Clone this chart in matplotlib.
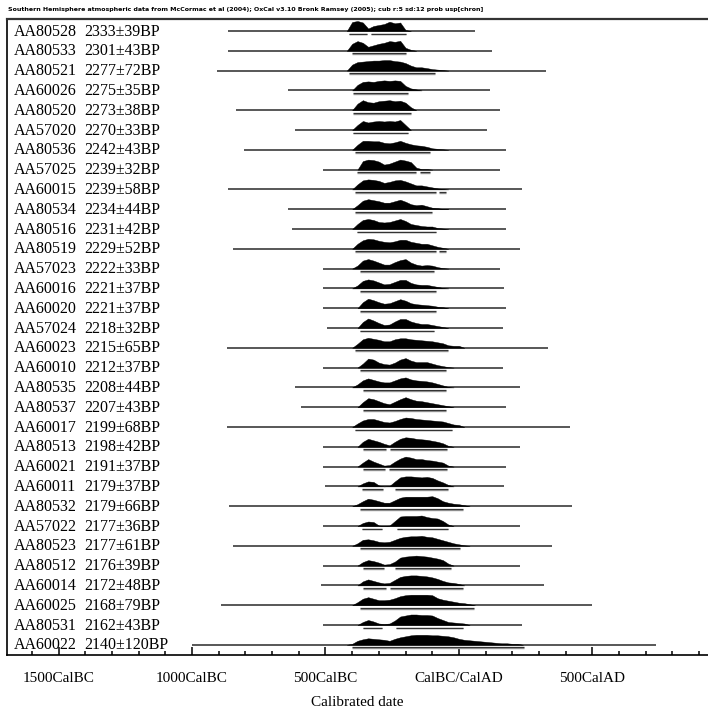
# OxCal style multiplot of calibrated radiocarbon dates
import matplotlib
matplotlib.use("Agg")
import matplotlib.pyplot as plt

names = ["AA80528", "AA80533", "AA80521", "AA60026", "AA80520", "AA57020",
         "AA80536", "AA57025", "AA60015", "AA80534", "AA80516", "AA80519",
         "AA57023", "AA60016", "AA60020", "AA57024", "AA60023", "AA60010",
         "AA80535", "AA80537", "AA60017", "AA80513", "AA60021", "AA60011",
         "AA80532", "AA57022", "AA80523", "AA80512", "AA60014", "AA60025",
         "AA80531", "AA60022"]
bp = [2333, 2301, 2277, 2275, 2273, 2270, 2242, 2239, 2239, 2234, 2231, 2229,
      2222, 2221, 2221, 2218, 2215, 2212, 2208, 2207, 2199, 2198, 2191, 2179,
      2179, 2177, 2177, 2176, 2172, 2168, 2162, 2140]
err = [39, 43, 72, 35, 38, 33, 43, 32, 58, 44, 42, 52,
       33, 37, 37, 32, 65, 37, 44, 43, 68, 42, 37, 37,
       66, 36, 61, 39, 48, 79, 43, 120]

# extent of the thin line of each row (years, BC negative)
line_start = [-865, -865, -905, -640, -835, -615, -805, -510, -865, -640, -625, -845,
              -510, -510, -510, -495, -870, -510, -615, -590, -870, -510, -510, -500,
              -860, -510, -845, -510, -515, -890, -510, -1000]
line_end = [60, 125, 325, 115, 155, 105, 175, 155, 235, 175, 175, 230,
            155, 170, 175, 165, 335, 165, 230, 175, 415, 230, 175, 170,
            425, 230, 350, 230, 320, 500, 235, 740]

# probability profile, read every 20 years from dist_start (relative height)
step = 20
dist_start = [-420, -420, -420, -400, -400, -400, -400, -380, -400, -400, -400, -400,
              -400, -400, -380, -380, -400, -380, -400, -380, -400, -380, -380, -380,
              -400, -380, -400, -380, -380, -400, -380, -420]
dist_heights = [
    [0, 9, 10, 8.5, 2.5, 5, 6, 7, 9.3, 7.7, 8.5, 1, 0],
    [0, 7, 9.7, 8, 4, 5.5, 7, 8, 9.7, 9, 10, 3, 1, 0],
    [0, 6, 8.5, 9, 9.5, 10, 10, 10.5, 10.5, 9.5, 9, 7.5, 5, 3.3, 3.3, 2.5, 1.5, 1, 0.5, 0],
    [0, 5.5, 8.5, 9, 8.5, 9.5, 10, 9.5, 10, 9.5, 4.5, 2, 1, 0],
    [0, 6.5, 10, 8, 7.5, 9, 9.5, 10, 9, 9.5, 7.5, 3, 0],
    [0, 5, 9, 7.5, 8.5, 9, 8.5, 9, 8.5, 10, 5, 0],
    [0, 5, 9, 9, 8.5, 8.5, 7, 6.5, 7.5, 9, 7, 5.5, 4.5, 4, 3, 1.5, 1, 0.5, 0],
    [0, 8.5, 10, 9.5, 8, 5, 6, 8, 10, 9, 7.5, 2, 0.5, 0.5, 0],
    [0, 5, 9, 10, 9.5, 8.5, 6.5, 7.5, 9, 9.5, 8, 6, 4, 4, 3, 2, 1, 0.5, 0],
    [0, 4, 8.5, 10, 9, 8, 6.5, 6.5, 8, 9.5, 7.5, 5, 4, 4.5, 3, 1.5, 1, 0.3, 0],
    [0, 5, 9, 10, 9, 7, 6.5, 7, 8.5, 10, 8, 5, 4, 3, 2.5, 2.5, 1, 0.5, 0],
    [0, 5, 8.5, 10, 9.5, 8, 7, 6.5, 7.5, 9, 9, 7, 6, 5, 5, 3.5, 2, 1, 0],
    [0, 3, 8, 9.5, 8, 6, 4, 4, 6.5, 8.5, 9.5, 6, 4, 3, 3.5, 3, 1.5, 0.5, 0],
    [0, 3, 7.5, 9, 8, 6, 4, 4.5, 6.5, 8.5, 8.5, 5.5, 4, 3.5, 3.5, 2.5, 1.5, 0.5, 0],
    [0, 6, 9.5, 8, 6, 4.5, 5, 7, 9, 7.5, 5, 4, 3.5, 3, 2.5, 1.5, 1, 0],
    [0, 6, 9.5, 7.5, 5, 3, 3.5, 6.5, 9, 9, 6.5, 5, 4, 4, 3, 2, 1, 0],
    [0, 4, 8.5, 10, 9, 8, 6.5, 6.5, 8.5, 9.5, 9.5, 8.5, 8, 7.5, 7, 6.5, 5.5, 4.5, 2.5, 2, 2, 0],
    [0, 4, 9, 8, 5, 3.5, 3, 5, 8, 9.5, 7, 5.5, 5.5, 5.5, 4, 2.5, 1.5, 0.5, 0],
    [0, 3, 7, 9, 7.5, 6, 5, 5, 7, 9, 10, 8, 7, 6.5, 6, 5, 3.5, 2, 0.5, 0],
    [0, 5, 9, 8, 6, 4, 3, 5.5, 8, 10, 8, 6.5, 6, 5, 4, 3, 2, 1, 0],
    [0, 3.5, 6.5, 8, 8, 6.5, 5, 4.5, 6, 8, 9.5, 9, 8, 7.5, 7, 6.5, 6, 5.5, 4, 2.5, 2, 0],
    [0, 5, 8, 6.5, 5, 3, 1.5, 5, 8, 9.5, 9, 8, 7.5, 7, 6, 5, 3.5, 1, 0],
    [0, 4, 7.5, 5, 3, 1, 1.5, 5, 8, 10, 9, 7.5, 7.5, 6.5, 6, 5, 4, 1, 0],
    [0, 3, 5, 4.5, 1, 0, 0.5, 5, 9, 10, 10, 9.5, 9, 9.5, 8.5, 6, 4, 1.5, 0],
    [0, 2, 5, 7.5, 6.5, 5, 3.5, 3.5, 6, 8.5, 9.5, 9.5, 9.5, 9.5, 9.5, 10, 8, 5, 3.5, 2.5, 2, 1, 0],
    [0, 3, 4.5, 4, 0.5, 0, 0.5, 5, 9.5, 10, 10, 10, 10.5, 9, 8, 7.5, 5, 1.5, 0],
    [0, 2.5, 6, 6.5, 5.5, 4, 3.5, 4, 6, 8, 9, 9.5, 9.5, 10, 9, 8.5, 7, 5.5, 4, 2.5, 1.5, 0.5, 0],
    [0, 3.5, 5.5, 4.5, 3, 1, 1.5, 4, 8, 9, 9.5, 10, 9.5, 9, 8, 7, 5.5, 2, 0],
    [0, 4, 6, 4.5, 3, 2, 2.5, 5.5, 8.5, 9.5, 10, 10, 9.5, 9, 8, 6.5, 4.5, 3, 2.5, 1.5, 0],
    [0, 3, 6.5, 8, 6.5, 5, 5, 5.5, 7, 9, 10, 10.5, 10.5, 10.5, 10.5, 10, 7, 5.5, 4.5, 3.5, 2.5, 2, 1, 0],
    [0, 3, 5, 3.5, 1.5, 1, 1.5, 4.5, 8.5, 9.5, 10.5, 10.5, 10, 10, 9.5, 7, 5, 3, 2.5, 2, 1.5, 0],
    [0, 1, 4, 5.5, 6.5, 6, 5.5, 5, 4, 6, 7.5, 8.5, 9.5, 10, 10, 10, 9.5, 9.5, 9, 8.5, 7.5,
     6, 5, 4.5, 4, 3.5, 3, 2.5, 2, 1.5, 1.5, 1, 1, 0],
]

# 95.4% ranges drawn under each profile
ranges95 = [
    [(-410, -345), (-330, -200)], [(-400, -200)], [(-410, -90)], [(-395, -190)],
    [(-395, -180)], [(-395, -190)], [(-390, -110)], [(-380, -160), (-145, -110)],
    [(-390, -85), (-75, -50)], [(-390, -100)], [(-380, -85)], [(-390, -85), (-75, -50)],
    [(-370, -95)], [(-370, -85)], [(-370, -85)], [(-370, -95)],
    [(-390, -40)], [(-370, -50)], [(-360, -50)], [(-360, -50)],
    [(-390, -25)], [(-360, -275), (-260, -45)], [(-360, -277), (-261, -43)], [(-365, -285), (-240, -40)],
    [(-370, 15)], [(-365, -290), (-233, -40)], [(-370, 5)], [(-360, -280), (-240, -30)],
    [(-360, -275), (-260, 15)], [(-370, 55)], [(-360, -290), (-235, 15)], [(-400, 245)],
]

major_ticks = [-1500, -1000, -500, 0, 500]
major_labels = ["1500CalBC", "1000CalBC", "500CalBC", "CalBC/CalAD", "500CalAD"]
minor_ticks = list(range(-1600, 1000, 100))

header = ("Southern Hemisphere atmospheric data from McCormac et al (2004); "
          "OxCal v3.10 Bronk Ramsey (2005); cub r:5 sd:12 prob usp[chron]")

W, H = 708, 713
fig = plt.figure(figsize=(W / 100, H / 100), dpi=100)
ax = fig.add_axes([7 / W, (H - 655) / H, 701 / W, 636 / H])
ax.set_xlim(-1693, 933)
ax.set_ylim(636, 0)

serif = "Liberation Serif"
row_gap = 19.8
for i in range(len(names)):
    base = 12 + row_gap * i
    ax.plot([line_start[i], line_end[i]], [base, base], color="#2a2a2a", lw=1.1,
            solid_capstyle="butt", zorder=2)
    xs = [dist_start[i] + step * k for k in range(len(dist_heights[i]))]
    ys = [base - h for h in dist_heights[i]]
    ax.fill_between(xs, base, ys, color="black", lw=0.3, edgecolor="black", zorder=3)
    for a, b in ranges95[i]:
        ax.plot([a, b], [base + 3.4, base + 3.4], color="#9a9a9a", lw=1.0,
                solid_capstyle="butt", zorder=2)
        ax.plot([a, b], [base + 2.5, base + 2.5], color="#333333", lw=0.9,
                solid_capstyle="butt", zorder=2)
    ax.text(7 / 701, base + 4.6, names[i], transform=ax.get_yaxis_transform(),
            fontsize=11.5, family=serif, va="baseline", ha="left")
    ax.text(77 / 701, base + 4.6, f"{bp[i]}\u00b1{err[i]}BP",
            transform=ax.get_yaxis_transform(),
            fontsize=11.5, family=serif, va="baseline", ha="left")

ax.set_xticks(major_ticks)
ax.set_xticklabels(major_labels, family=serif, fontsize=11)
ax.set_xticks(minor_ticks, minor=True)
ax.tick_params(axis="x", which="major", direction="in", length=6, width=1.1, pad=12)
ax.tick_params(axis="x", which="minor", direction="in", length=3, width=1.1)
ax.set_yticks([])
ax.spines["right"].set_visible(False)
ax.spines["top"].set_linewidth(1.6)
ax.spines["top"].set_color("#333333")
ax.spines["left"].set_linewidth(1.2)
ax.spines["bottom"].set_linewidth(1.2)

fig.text(8 / W, 1 - 9 / H, header, fontsize=4.5, family="DejaVu Sans",
         fontweight="bold", va="center", ha="left")
fig.text(357 / W, 1 - 703 / H, "Calibrated date", fontsize=11, family=serif,
         va="center", ha="center")

fig.savefig("out.png", dpi=100)
